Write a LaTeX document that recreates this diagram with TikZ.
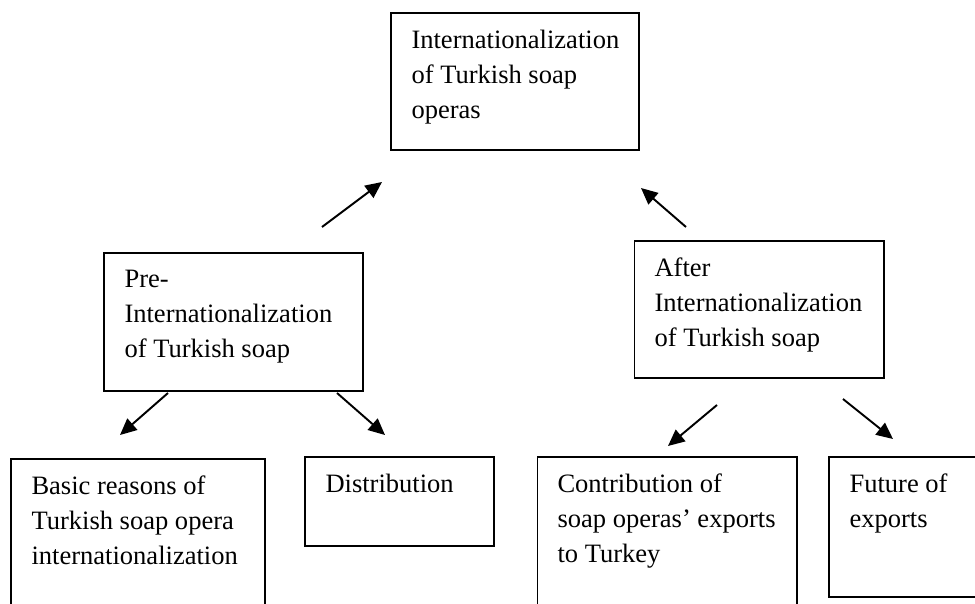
\documentclass[tikz,border=0pt]{standalone}
\usepackage{fontspec}
\setmainfont{Liberation Serif}
\usepackage{tikz}
\usetikzlibrary{arrows.meta}

\tikzset{
  lbl/.style={anchor=north west,align=left,inner xsep=0.41cm,inner ysep=0.335cm,
    font=\fontsize{15.1}{20}\selectfont},
  arr/.style={-{Triangle[length=0.33cm,width=0.3cm]},line width=1.1pt}
}

\begin{document}
\begin{tikzpicture}[x=0.02cm,y=-0.02cm,line width=0.6pt]
  \useasboundingbox (0,0) rectangle (975,604);
  \clip (0,0) rectangle (975,604);
  % boxes
  \node[draw,minimum width=4.96cm,minimum height=2.74cm] (top) at (515,81.5) {};
  \node[draw,minimum width=5.18cm,minimum height=2.76cm] (pre) at (233.5,322) {};
  \node[draw,minimum width=5.00cm,minimum height=2.74cm] (after) at (759,309.5) {};
  \node[draw,minimum width=5.08cm,minimum height=3.60cm] (basic) at (138,549) {};
  \node[draw,minimum width=3.78cm,minimum height=1.78cm] (dist) at (399.5,501.5) {};
  \node[draw,minimum width=5.20cm,minimum height=3.60cm] (contrib) at (667,547) {};
  \node[draw,minimum width=3.02cm,minimum height=2.80cm] (future) at (904.5,527) {};
  % texts
  \node[lbl] (topT) at (top.north west) {Internationalization\\of Turkish soap\\operas};
  \node[lbl] (preT) at (pre.north west) {Pre-\\Internationalization\\of Turkish soap};
  \node[lbl] (afterT) at (after.north west) {After\\Internationalization\\of Turkish soap};
  \node[lbl] (basicT) at (basic.north west) {Basic reasons of\\Turkish soap opera\\internationalization};
  \node[lbl] (distT) at (dist.north west) {Distribution};
  \node[lbl] (contribT) at (contrib.north west) {Contribution of\\soap operas’ exports\\to Turkey};
  \node[lbl] (futureT) at (future.north west) {Future of\\exports};
  % arrow ends
  \coordinate (preUp) at (322,227);    \coordinate (topL) at (382,182);
  \coordinate (afterUp) at (686,227);  \coordinate (topR) at (641,188);
  \coordinate (preL) at (168,393);     \coordinate (basicIn) at (120,435);
  \coordinate (preR) at (337,393);     \coordinate (distIn) at (385,435);
  \coordinate (afterL) at (717,405);   \coordinate (contribIn) at (668,446);
  \coordinate (afterR) at (843,399);   \coordinate (futureIn) at (893,439);
  \draw[arr] (preUp) -- (topL);
  \draw[arr] (afterUp) -- (topR);
  \draw[arr] (preL) -- (basicIn);
  \draw[arr] (preR) -- (distIn);
  \draw[arr] (afterL) -- (contribIn);
  \draw[arr] (afterR) -- (futureIn);
\end{tikzpicture}
\end{document}
